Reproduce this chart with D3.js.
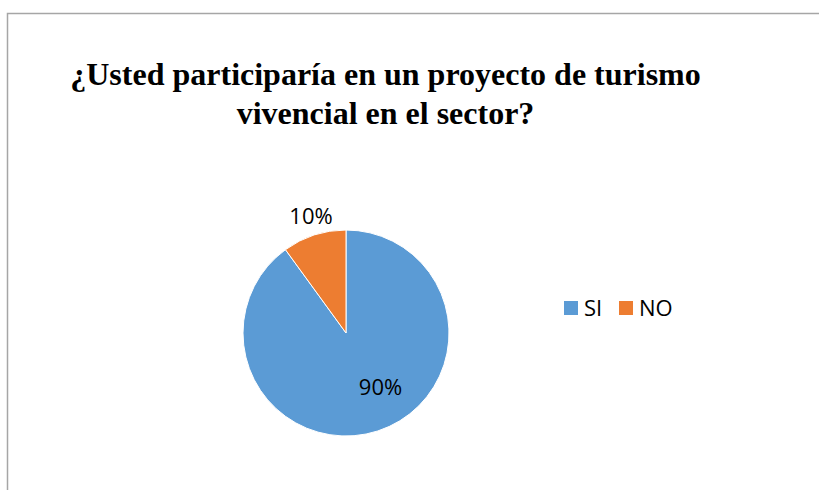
<!DOCTYPE html>
<html><head><meta charset="utf-8">
<script src="https://cdn.jsdelivr.net/npm/d3@7"></script>
<style>body{margin:0;background:#fff}svg{display:block}</style>
</head><body>
<svg id="c" width="819" height="490"></svg>
<script>
const titleLines = ["¿Usted participaría en un proyecto de turismo", "vivencial en el sector?"];
const categories = ["SI", "NO"];
const values = [90, 10];
const labels = ["90%", "10%"];
const colors = ["#5B9BD5", "#ED7D31"];

const svg = d3.select("#c");
svg.append("path").attr("d", "M7.5,490 L7.5,13.5 L819,13.5")
  .attr("fill", "none").attr("stroke", "#a6a6a6").attr("stroke-width", 1.5);

titleLines.forEach((t, i) => {
  svg.append("text").attr("x", 385.5).attr("y", 85 + i * 39)
    .attr("text-anchor", "middle").attr("fill", "#000")
    .style("font-family", '"Liberation Serif"').style("font-weight", "bold").style("font-size", "32px")
    .text(t);
});

const cx = 346, cy = 333, r = 103;
const pie = d3.pie().sort(null).value(d => d)(values);
const arc = d3.arc().innerRadius(0).outerRadius(r);
const g = svg.append("g").attr("transform", `translate(${cx},${cy})`);
g.selectAll("path").data(pie).join("path")
  .attr("d", arc).attr("fill", (d, i) => colors[i])
  .attr("stroke", "#fff").attr("stroke-width", 1);

// data labels: SI inside end, NO outside end
g.selectAll("text.lbl").data(pie).join("text").attr("class", "lbl")
  .attr("x", (d, i) => i === 0 ? 34.5 : -35)
  .attr("y", (d, i) => i === 0 ? 62 : -108.7)
  .attr("text-anchor", "middle").attr("fill", "#000")
  .style("font-family", '"Open Sans"').style("font-size", "22px")
  .text((d, i) => labels[i]);

const lg = svg.append("g");
const lx = [564, 619];
categories.forEach((c, i) => {
  lg.append("rect").attr("x", lx[i]).attr("y", 301).attr("width", 14).attr("height", 14).attr("fill", colors[i]);
  lg.append("text").attr("x", lx[i] + 20).attr("y", 315.5).attr("fill", "#000")
    .style("font-family", '"Open Sans"').style("font-size", "22px").text(c);
});
</script>
</body></html>
